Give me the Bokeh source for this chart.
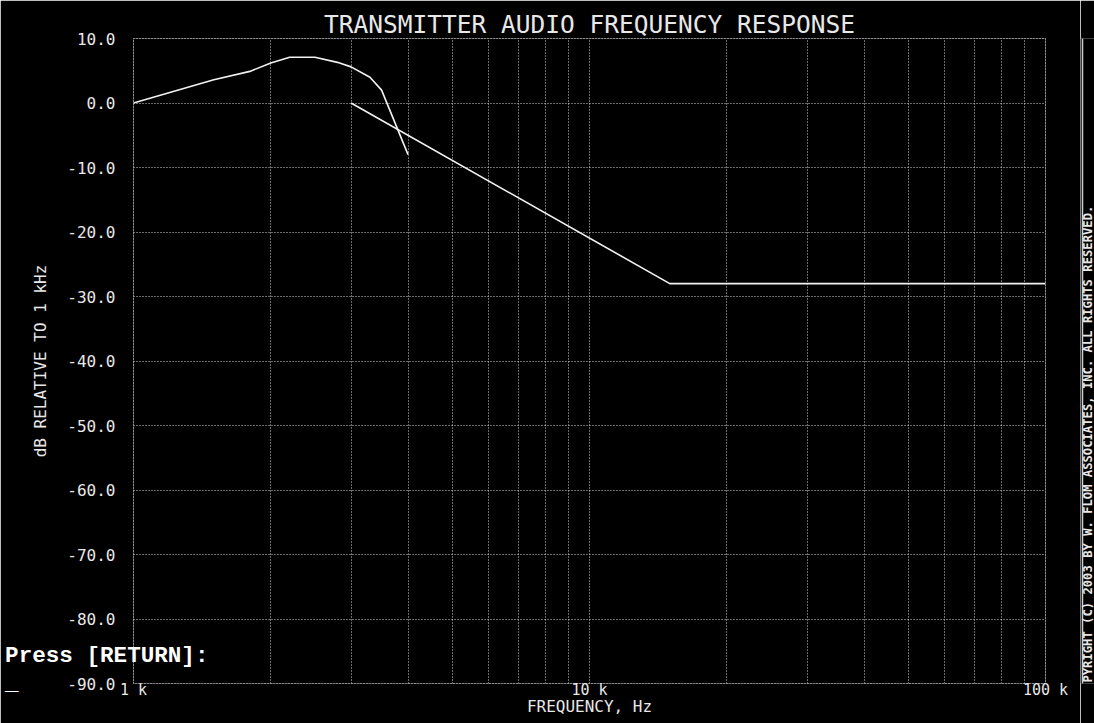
import math
from bokeh.plotting import figure
from bokeh.layouts import row
from bokeh.models import FixedTicker, LinearAxis
from bokeh.core.properties import value
from bokeh.embed import file_html
from bokeh.resources import INLINE

# ---- data ----
resp_freq = [1000, 1500, 1800, 2000, 2200, 2500, 2800, 3000, 3300, 3500, 4000]
resp_db = [0.0, 3.6, 4.9, 6.2, 7.1, 7.1, 6.3, 5.6, 4.0, 2.0, -8.0]

limit_freq = [3000, 15000, 100000]
limit_db = [0.0, -28.0, -28.0]

x_major = [1000, 10000, 100000]
x_labels = ["1 k", "10 k", "100 k"]
x_minor = [2000, 3000, 4000, 5000, 6000, 7000, 8000, 9000,
           20000, 30000, 40000, 50000, 60000, 70000, 80000, 90000]
y_major = [10, 0, -10, -20, -30, -40, -50, -60, -70, -80, -90]
y_labels = ["10.0", "0.0", "-10.0", "-20.0", "-30.0", "-40.0",
            "-50.0", "-60.0", "-70.0", "-80.0", "-90.0"]

title_text = "TRANSMITTER AUDIO FREQUENCY RESPONSE"
x_title = "FREQUENCY, Hz"
y_title = "dB RELATIVE TO 1 kHz"
prompt_text = "Press [RETURN]:"
cursor_text = "_" + "\u00a0" * 14
copyright_text = "PYRIGHT (C) 2003 BY W. FLOM ASSOCIATES, INC.  ALL RIGHTS RESERVED."

FG = "#e8e8e8"
GRID = "#d8d8d8"
MONO = "DejaVu Sans Mono"

p = figure(width=1080, height=723, x_axis_type="log",
           x_range=(1000, 100000), y_range=(-90, 10),
           output_backend="svg", toolbar_location=None,
           title=title_text,
           min_border_left=133, min_border_right=35,
           min_border_top=38, min_border_bottom=40)

p.background_fill_color = "black"
p.border_fill_color = "black"
p.outline_line_color = GRID
p.outline_line_dash = "1 2"

# title
p.title.align = "center"
p.title.text_font = MONO
p.title.text_font_size = "24.5px"
p.title.text_font_style = "normal"
p.title.text_color = FG
p.title.standoff = 0


def plain(ax):
    ax.axis_line_color = None
    ax.major_tick_line_color = None
    ax.minor_tick_line_color = None
    ax.major_tick_out = 0
    ax.major_tick_in = 0
    ax.minor_tick_out = 0
    ax.minor_tick_in = 0


# axes
p.xaxis.ticker = FixedTicker(ticks=x_major, minor_ticks=x_minor)
p.xaxis.major_label_overrides = {t: l for t, l in zip(x_major, x_labels)}
p.yaxis.ticker = FixedTicker(ticks=y_major)
p.yaxis.major_label_overrides = {t: l for t, l in zip(y_major, y_labels)}

for ax in (p.xaxis[0], p.yaxis[0]):
    plain(ax)
    ax.major_label_text_color = FG
    ax.major_label_text_font = MONO
    ax.axis_label_text_color = FG
    ax.axis_label_text_font = MONO
    ax.axis_label_text_font_style = "normal"
    ax.axis_label_text_font_size = "16px"

p.xaxis.axis_label = x_title
p.xaxis.major_label_text_font_size = "15px"
p.xaxis.major_label_standoff = -3
p.xaxis.axis_label_standoff = -5
p.yaxis.axis_label = y_title
p.yaxis.major_label_text_font_size = "16px"
p.yaxis.major_label_standoff = 18
p.yaxis.axis_label_standoff = 14

# terminal prompt (overlaid text) as an extra left axis
prompt_y = [-85.66, -90]
prompt_axis = LinearAxis(ticker=FixedTicker(ticks=prompt_y),
                         major_label_overrides={prompt_y[0]: prompt_text,
                                                prompt_y[1]: cursor_text})
plain(prompt_axis)
prompt_axis.major_label_standoff = -180
prompt_axis.major_label_text_font = "Liberation Mono"
prompt_axis.major_label_text_font_style = "bold"
prompt_axis.major_label_text_font_size = "22.6px"
prompt_axis.major_label_text_color = "white"
p.add_layout(prompt_axis, "left")

# grids
for g in (p.xgrid[0], p.ygrid[0]):
    g.grid_line_color = GRID
    g.grid_line_dash = "1 2"
    g.grid_line_width = 1
p.xgrid.minor_grid_line_color = GRID
p.xgrid.minor_grid_line_dash = "1 2"
p.xgrid.minor_grid_line_width = 1

# curves
p.line(resp_freq, resp_db, line_color="#f2f2f2", line_width=1.6)
p.line(limit_freq, limit_db, line_color="#f2f2f2", line_width=1.6)

# narrow strip on the right with the copyright notice
s = figure(width=14, height=723, x_range=(0, 14), y_range=(0, 723),
           output_backend="svg", toolbar_location=None, min_border=0)
s.axis.visible = False
s.grid.visible = False
s.background_fill_color = "black"
s.border_fill_color = "black"
s.outline_line_color = None
s.line(x=[2, 2], y=[0, 723], line_color="#d0d0d0", line_width=1.5)
s.text(x=[7.5], y=[1], text=[copyright_text], angle=math.pi / 2,
       text_align="left", text_baseline="middle",
       text_font=value(MONO), text_font_style="bold",
       text_font_size="12.2px", text_color=FG)

layout = row(p, s, spacing=0)

html = file_html(layout, INLINE)
html = html.replace("<body>", '<body style="background-color:#000000;">', 1)
open("out.html", "w").write(html)
